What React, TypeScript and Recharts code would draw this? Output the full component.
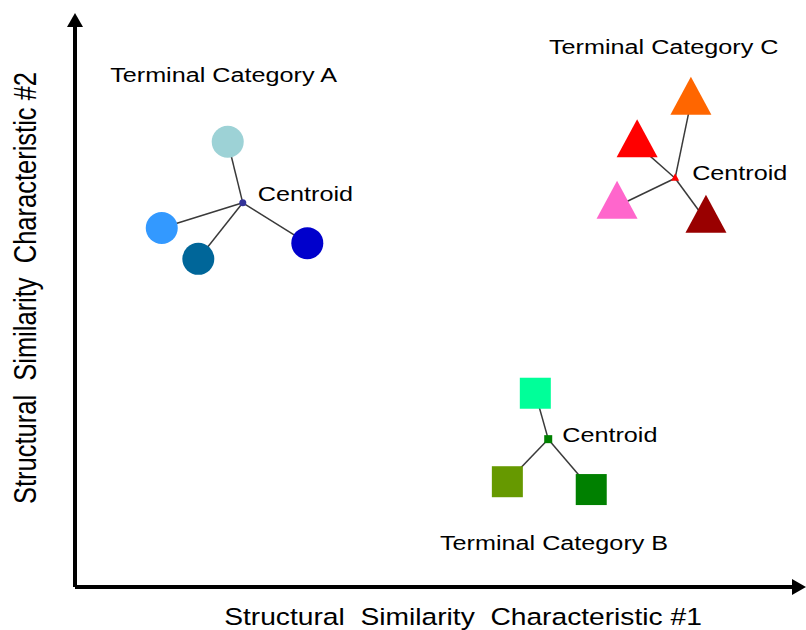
import React from 'react';
import { ScatterChart, Scatter, XAxis, YAxis } from 'recharts';

// ---- data (arbitrary similarity units) ----
const categoryA = [
  { x: 2.13, y: 7.95, color: '#9DD2D6' },
  { x: 1.21, y: 6.41, color: '#3399FF' },
  { x: 1.72, y: 5.86, color: '#006699' },
  { x: 3.24, y: 6.14, color: '#0000CC' },
];
const centroidA = { x: 2.34, y: 6.86, color: '#333399' };

const categoryB = [
  { x: 6.42, y: 3.46, color: '#00FF99' },
  { x: 6.03, y: 1.88, color: '#669900' },
  { x: 7.2, y: 1.74, color: '#008000' },
];
const centroidB = { x: 6.6, y: 2.64, color: '#008000' };

const categoryC = [
  { x: 8.59, y: 8.66, color: '#FF6600' },
  { x: 7.84, y: 7.9, color: '#FF0000' },
  { x: 7.56, y: 6.8, color: '#FF66CC' },
  { x: 8.8, y: 6.55, color: '#990000' },
];
const centroidC = { x: 8.37, y: 7.3, color: '#FF0000' };

const categoryTitles = [
  { x: 0.49, y: 9.02, label: 'Terminal Category A' },
  { x: 6.61, y: 9.52, label: 'Terminal Category C' },
  { x: 5.09, y: 0.66, label: 'Terminal Category B' },
];

const xAxisTitle = 'Structural  Similarity  Characteristic #1';
const yAxisTitle = 'Structural  Similarity  Characteristic #2';
const centroidText = 'Centroid';

// ---- styling ----
const FONT = '"Liberation Sans", Arial, Helvetica, sans-serif';
const STRETCH = 1.2;
const SPOKE = { stroke: '#3a3a3a', strokeWidth: 1.5 };

const spokes = (centroid: any, members: any[]) => members.map((m) => [centroid, m]);

const Blank = () => <g />;

const circleShape = (p: any) => <circle cx={p.cx} cy={p.cy} r={16} fill={p.payload.color} />;
const squareShape = (p: any) => (
  <rect x={p.cx - 15.5} y={p.cy - 15.5} width={31} height={31} fill={p.payload.color} />
);
const triangleShape = (p: any) => {
  const h = 38, w = 41;
  const top = p.cy - (2 * h) / 3, bot = p.cy + h / 3;
  return (
    <polygon
      points={`${p.cx},${top} ${p.cx - w / 2},${bot} ${p.cx + w / 2},${bot}`}
      fill={p.payload.color}
    />
  );
};

const CentroidLabel = ({ x, y }: { x: number; y: number }) => (
  <text
    transform={`translate(${x},${y}) scale(${STRETCH},1)`}
    fontFamily={FONT}
    fontSize={21}
    fill="#000"
  >
    {centroidText}
  </text>
);

const centroidCircle = (p: any) => (
  <g>
    <circle cx={p.cx} cy={p.cy} r={3.5} fill={p.payload.color} />
    <CentroidLabel x={p.cx + 15} y={p.cy - 2} />
  </g>
);
const centroidTriangle = (p: any) => (
  <g>
    <polygon
      points={`${p.cx},${p.cy - 5} ${p.cx - 4},${p.cy + 2.5} ${p.cx + 4},${p.cy + 2.5}`}
      fill={p.payload.color}
    />
    <CentroidLabel x={p.cx + 17} y={p.cy + 2} />
  </g>
);
const centroidSquare = (p: any) => (
  <g>
    <rect x={p.cx - 4} y={p.cy - 4} width={8} height={8} fill={p.payload.color} />
    <CentroidLabel x={p.cx + 14} y={p.cy + 3} />
  </g>
);

const titleShape = (p: any) => (
  <text
    transform={`translate(${p.cx},${p.cy}) scale(${STRETCH},1)`}
    fontFamily={FONT}
    fontSize={21}
    fill="#000"
  >
    {p.payload.label}
  </text>
);

const XTitle = () => (
  <text
    transform={`translate(463,625) scale(${STRETCH},1)`}
    textAnchor="middle"
    fontFamily={FONT}
    fontSize={23.5}
    fill="#000"
    style={{ whiteSpace: 'pre' }}
  >
    {xAxisTitle}
  </text>
);

const YTitle = () => (
  <text
    transform={`translate(36,288) scale(${STRETCH},1) rotate(-90)`}
    textAnchor="middle"
    fontFamily={FONT}
    fontSize={25.5}
    fill="#000"
    style={{ whiteSpace: 'pre' }}
  >
    {yAxisTitle}
  </text>
);

export default function App() {
  return (
    <div style={{ position: 'absolute', left: 0, top: 0, width: 806, height: 630, background: '#fff' }}>
      <ScatterChart width={806} height={630} margin={{ top: 27, right: 14, bottom: 0, left: 0 }}>
        <defs>
          <marker
            id="arrowHead"
            markerUnits="userSpaceOnUse"
            markerWidth={14}
            markerHeight={16}
            viewBox="0 0 14 16"
            refX={0}
            refY={8}
            orient="auto-start-reverse"
          >
            <path d="M0,0 L14,8 L0,16 Z" fill="#000" />
          </marker>
        </defs>
        <XAxis
          type="number"
          dataKey="x"
          domain={[0, 10]}
          allowDataOverflow
          height={43}
          tick={false}
          tickLine={false}
          axisLine={{ stroke: '#000', strokeWidth: 4, markerEnd: 'url(#arrowHead)' } as any}
          label={<XTitle />}
        />
        <YAxis
          type="number"
          dataKey="y"
          domain={[0, 10]}
          allowDataOverflow
          width={75}
          tick={false}
          tickLine={false}
          axisLine={{ stroke: '#000', strokeWidth: 4, markerStart: 'url(#arrowHead)' } as any}
          label={<YTitle />}
        />

        {spokes(centroidA, categoryA).map((d, i) => (
          <Scatter key={`sa${i}`} data={d} line={SPOKE} shape={Blank} isAnimationActive={false} />
        ))}
        {spokes(centroidB, categoryB).map((d, i) => (
          <Scatter key={`sb${i}`} data={d} line={SPOKE} shape={Blank} isAnimationActive={false} />
        ))}
        {spokes(centroidC, categoryC).map((d, i) => (
          <Scatter key={`sc${i}`} data={d} line={SPOKE} shape={Blank} isAnimationActive={false} />
        ))}

        <Scatter data={categoryA} shape={circleShape} isAnimationActive={false} />
        <Scatter data={categoryB} shape={squareShape} isAnimationActive={false} />
        <Scatter data={categoryC} shape={triangleShape} isAnimationActive={false} />

        <Scatter data={[centroidA]} shape={centroidCircle} isAnimationActive={false} />
        <Scatter data={[centroidB]} shape={centroidSquare} isAnimationActive={false} />
        <Scatter data={[centroidC]} shape={centroidTriangle} isAnimationActive={false} />

        <Scatter data={categoryTitles} shape={titleShape} isAnimationActive={false} />
      </ScatterChart>
    </div>
  );
}
